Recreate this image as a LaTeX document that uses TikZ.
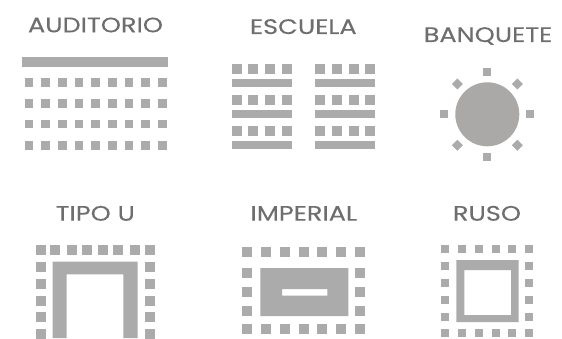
\documentclass[tikz,border=0pt]{standalone}
\usepackage{fontspec}
\setmainfont[FakeStretch=1.22,FakeBold=0.12]{Poppins}
\definecolor{shape}{HTML}{ABABAB}
\definecolor{disc}{HTML}{ABA9A7}
\definecolor{labelgray}{HTML}{6E6E6E}
\tikzset{
  lbl/.style={anchor=base,inner sep=0pt,text=labelgray,font=\fontsize{21}{21}\selectfont},
  solidshape/.style={fill=shape,draw=none}
}
\newcommand{\sq}[3]{\fill[solidshape] ({#1-#3/2},{#2-#3/2}) rectangle ({#1+#3/2},{#2+#3/2});}
\begin{document}
\begin{tikzpicture}[x=1pt,y=-1pt]
\fill[white] (0,0) rectangle (562,339);
\useasboundingbox (0,0) rectangle (562,339);
% labels
\node[lbl] (auditorio) at (95.5,32.3) {AUDITORIO};
\node[lbl] (escuela) at (303.3,34) {ESCUELA};
\node[lbl] (banquete) at (488,42) {BANQUETE};
\node[lbl] (tipou) at (95.3,220.7) {TIPO U};
\node[lbl] (imperial) at (303.8,220.7) {IMPERIAL};
\node[lbl] (ruso) at (487,220.7) {RUSO};
% auditorio
\fill[solidshape] (22,57.5) rectangle (168,67.5);
\foreach \y in {82.7,103.3,124,145.3}
  \foreach \i in {0,...,8} { \pgfmathsetmacro{\xx}{29+16.67*\i} \sq{\xx}{\y}{8.5} }
% escuela
\foreach \y in {69,100,131}
  \foreach \x in {236.7,253.3,270,287.3,320,336.7,353.7,370.3} { \sq{\x}{\y}{10} }
\foreach \a/\b in {78.7/86.7,110/117.7,141/148.7} {
  \fill[solidshape] (231.7,\a) rectangle (292,\b);
  \fill[solidshape] (315,\a) rectangle (375.3,\b);
}
% banquete
\fill[disc] (487.3,114.3) circle (32);
\foreach \x/\y in {487.3/71.7,487.3/157.3,444.3/114.3,530.3/114.3} { \sq{\x}{\y}{8} }
\foreach \x/\y in {457.3/84,517.3/84,457.3/145.3,517.3/145.3}
  \fill[solidshape] (\x-5.5,\y) -- (\x,\y-5.5) -- (\x+5.5,\y) -- (\x,\y+5.5) -- cycle;
% tipo u
\foreach \x in {40.7,55.3,71.7,86.7,103.3,117.7,135,149.7} { \sq{\x}{250.3}{10} }
\foreach \y in {267.3,284,300.7,317.3,334} { \sq{40.7}{\y}{10} \sq{149.7}{\y}{10} }
\fill[solidshape] (52.7,338) -- (52.7,261.7) -- (137.7,261.7) -- (137.7,338) -- (123.3,338) -- (123.3,274.3) -- (66.7,274.3) -- (66.7,338) -- cycle;
% imperial
\foreach \x in {247.3,266,285,303.7,322.3,341.3,360.3} { \sq{\x}{252.3}{10} \sq{\x}{329.3}{10} }
\foreach \y in {273.3,292.3,310.7} { \sq{247.3}{\y}{10} \sq{360.3}{\y}{10} }
\fill[solidshape,even odd rule] (260.3,268) rectangle (348.3,316) (282,289) rectangle (327.3,295.7);
% ruso
\foreach \x in {445.3,461.7,478.7,495.7,512.3,529.3} { \sq{\x}{249}{8} \sq{\x}{333.3}{8} }
\foreach \y in {266,282.7,299.7,316.7} { \sq{445.3}{\y}{8} \sq{529.3}{\y}{8} }
\fill[solidshape,even odd rule] (456.3,260) rectangle (518.7,322) (464.3,270) rectangle (511,315);
\end{tikzpicture}
\end{document}
